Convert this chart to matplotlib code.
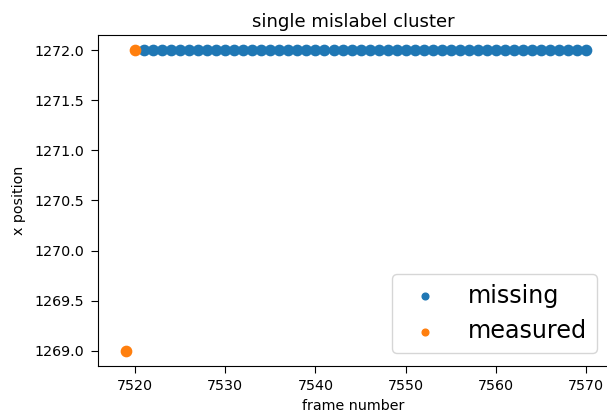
import matplotlib
matplotlib.use("Agg")
import matplotlib.pyplot as plt

# frames where the tracker lost the point (filled at the last known x)
missing_frames = [
    7521, 7522, 7523, 7524, 7525, 7526, 7527, 7528, 7529, 7530,
    7531, 7532, 7533, 7534, 7535, 7536, 7537, 7538, 7539, 7540,
    7541, 7542, 7543, 7544, 7545, 7546, 7547, 7548, 7549, 7550,
    7551, 7552, 7553, 7554, 7555, 7556, 7557, 7558, 7559, 7560,
    7561, 7562, 7563, 7564, 7565, 7566, 7567, 7568, 7569, 7570,
]
missing_x = [
    1272.0, 1272.0, 1272.0, 1272.0, 1272.0, 1272.0, 1272.0, 1272.0, 1272.0, 1272.0,
    1272.0, 1272.0, 1272.0, 1272.0, 1272.0, 1272.0, 1272.0, 1272.0, 1272.0, 1272.0,
    1272.0, 1272.0, 1272.0, 1272.0, 1272.0, 1272.0, 1272.0, 1272.0, 1272.0, 1272.0,
    1272.0, 1272.0, 1272.0, 1272.0, 1272.0, 1272.0, 1272.0, 1272.0, 1272.0, 1272.0,
    1272.0, 1272.0, 1272.0, 1272.0, 1272.0, 1272.0, 1272.0, 1272.0, 1272.0, 1272.0,
]

# frames with an actual measurement
measured_frames = [7519, 7520]
measured_x = [1269.0, 1272.0]

fs = 10.3
plt.rcParams["font.family"] = ["DejaVu Sans"]
plt.rcParams["font.size"] = fs

fig = plt.figure(figsize=(6.07, 4.16), dpi=100)
ax = fig.add_axes([0.161, 0.1202, 0.8424, 0.7957])

ax.scatter(missing_frames, missing_x, s=55, color="#1f77b4", label="missing")
ax.scatter(measured_frames, measured_x, s=55, color="#ff7f0e", label="measured")

ax.set_xlim(7515.86, 7572.55)
ax.set_ylim(1268.85, 1272.15)
ax.set_xticks([7520, 7530, 7540, 7550, 7560, 7570])
ax.set_yticks([1269.0, 1269.5, 1270.0, 1270.5, 1271.0, 1271.5, 1272.0])
ax.set_yticklabels(["1269.0", "1269.5", "1270.0", "1270.5", "1271.0", "1271.5", "1272.0"])
ax.tick_params(labelsize=fs, length=5, pad=4.5)

ax.set_title("single mislabel cluster", fontsize=13.1)
ax.set_xlabel("frame number", fontsize=fs)
ax.set_ylabel("x position", fontsize=fs, labelpad=6)

ax.legend(loc="lower right", fontsize=17.2, markerscale=0.65,
          bbox_to_anchor=(597 / 607, (416 - 353) / 416),
          bbox_transform=fig.transFigure, borderaxespad=0)

fig.savefig("out.png", dpi=100)
